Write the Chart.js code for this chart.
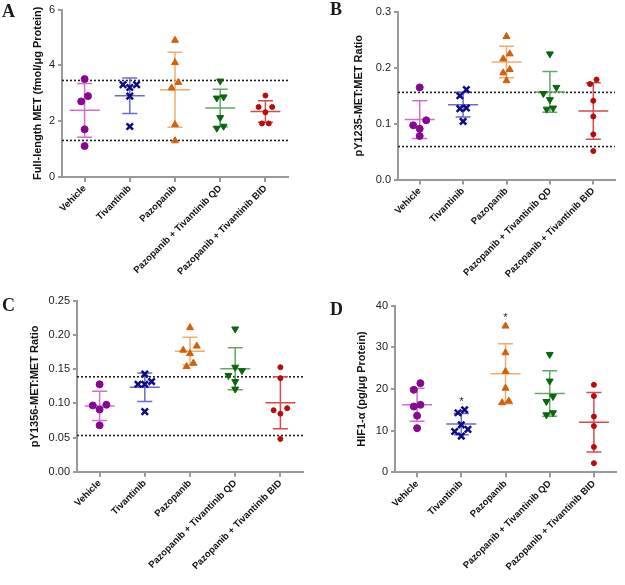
<!DOCTYPE html>
<html>
<head>
<meta charset="utf-8">
<script src="https://cdn.jsdelivr.net/npm/chart.js@4.4.1/dist/chart.umd.min.js"></script>
<style>
  html, body { margin: 0; padding: 0; background: #fff; }
  #wrap { position: relative; width: 625px; height: 585px; overflow: hidden; }
  canvas { position: absolute; }
  .letter { position: absolute; font-family: "Liberation Serif", "Times New Roman", serif; font-weight: bold; font-size: 18px; line-height: 18px; color: #1a1a1a; }
</style>
</head>
<body>
<div id="wrap">
  <canvas id="chartA" style="left:0;top:0" width="312" height="290"></canvas>
  <canvas id="chartB" style="left:312px;top:0" width="313" height="290"></canvas>
  <canvas id="chartC" style="left:0;top:290px" width="312" height="295"></canvas>
  <canvas id="chartD" style="left:312px;top:290px" width="313" height="295"></canvas>
  <div class="letter" style="left:2px;top:2px">A</div>
  <div class="letter" style="left:330px;top:0px">B</div>
  <div class="letter" style="left:2px;top:296px">C</div>
  <div class="letter" style="left:330px;top:300px">D</div>
</div>
<script>
const groups = ['Vehicle', 'Tivantinib', 'Pazopanib', 'Pazopanib + Tivantinib QD', 'Pazopanib + Tivantinib BID'];

// A: full-length MET (fmol/ug protein)
const metVehicle = [3.51, 2.90, 2.71, 1.71, 1.11];
const metTivantinib = [3.31, 3.21, 3.31, 2.90, 1.81];
const metPazopanib = [4.90, 4.10, 3.39, 3.19, 1.88, 1.30];
const metQD = [3.44, 2.83, 2.87, 2.13, 1.75, 1.82];
const metBID = [2.92, 2.51, 2.51, 2.32, 1.92, 1.92];
const metRefs = [3.46, 1.31];
const metTicks = [0, 2, 4, 6];

// B: pY1235-MET:MET ratio
const y1235Vehicle = [0.165, 0.106, 0.097, 0.091, 0.078];
const y1235Tivantinib = [0.161, 0.150, 0.128, 0.127, 0.104];
const y1235Pazopanib = [0.256, 0.225, 0.216, 0.197, 0.191, 0.177];
const y1235QD = [0.225, 0.165, 0.154, 0.143, 0.128, 0.126];
const y1235BID = [0.179, 0.171, 0.141, 0.113, 0.081, 0.051];
const y1235Refs = [0.156, 0.059];
const y1235Ticks = [0.0, 0.1, 0.2, 0.3];

// C: pY1356-MET:MET ratio
const y1356Vehicle = [0.128, 0.098, 0.097, 0.091, 0.068];
const y1356Tivantinib = [0.143, 0.132, 0.128, 0.128, 0.088];
const y1356Pazopanib = [0.211, 0.184, 0.178, 0.173, 0.159, 0.154];
const y1356QD = [0.209, 0.153, 0.148, 0.141, 0.132, 0.121];
const y1356BID = [0.153, 0.137, 0.093, 0.090, 0.085, 0.048];
const y1356Refs = [0.139, 0.053];
const y1356Ticks = [0.00, 0.05, 0.10, 0.15, 0.20, 0.25];

// D: HIF1-alpha (pg/ug protein)
const hifVehicle = [21.4, 19.8, 16.2, 15.8, 13.6, 10.6];
const hifTivantinib = [15.0, 14.3, 11.4, 10.3, 9.8, 8.7];
const hifPazopanib = [35.1, 28.7, 24.2, 20.2, 17.1, 16.7];
const hifQD = [28.3, 21.9, 18.2, 17.0, 14.3, 13.8];
const hifBID = [21.0, 18.3, 13.4, 11.1, 6.1, 2.2];
const hifSig = ['', '*', '*', '', ''];
const hifTicks = [0, 10, 20, 30, 40];

const looks = [
  { style: 'circle', r: 3.5, rot: 0, bw: 1, dot: '#86088f', bar: '#cf6fd2' },
  { style: 'crossRot', r: 4.5, rot: 0, bw: 2.5, dot: '#0c0c86', bar: '#6a6ad0' },
  { style: 'triangle', r: 4, rot: 0, bw: 1, dot: '#d0600c', bar: '#f2ac70' },
  { style: 'triangle', r: 4, rot: 180, bw: 1, dot: '#0b650f', bar: '#62a862' },
  { style: 'circle', r: 2.5, rot: 0, bw: 1, dot: '#b80c0c', bar: '#d54a4a' }
];
const JITTER = 0.15;
const FONT = '"Liberation Sans", Arial, sans-serif';

function meanSd(v) {
  const m = v.reduce((a, b) => a + b, 0) / v.length;
  const ss = v.reduce((a, b) => a + (b - m) * (b - m), 0);
  return [m, Math.sqrt(ss / (v.length - 1))];
}

// spread points with nearly equal values sideways, prism style
function spread(values, thresh) {
  const idx = values.map((v, i) => i).sort((a, b) => values[a] - values[b]);
  const off = values.map(() => 0);
  let run = [idx[0]];
  const flush = () => {
    if (run.length === 2) { off[run[0]] = -0.5; off[run[1]] = 0.5; }
    else if (run.length > 2) run.forEach((k, j) => { off[k] = [0, -1, 1][j % 3]; });
  };
  for (let j = 1; j < idx.length; j++) {
    if (values[idx[j]] - values[idx[j - 1]] < thresh) run.push(idx[j]);
    else { flush(); run = [idx[j]]; }
  }
  flush();
  return off;
}

const starPlugin = {
  id: 'stars',
  afterDatasetsDraw(chart, args, opts) {
    if (!opts.marks) return;
    const { ctx, scales } = chart;
    ctx.save();
    ctx.font = '11px ' + FONT;
    ctx.fillStyle = '#222';
    ctx.textAlign = 'center';
    ctx.textBaseline = 'alphabetic';
    opts.marks.forEach((m, g) => {
      if (!m) return;
      const top = Math.max(...opts.series[g]);
      ctx.fillText(m, scales.x.getPixelForValue(g), scales.y.getPixelForValue(top) - 5);
    });
    ctx.restore();
  }
};

function makePanel(id, series, cfg) {
  const ticks = cfg.ticks;
  const yMax = ticks[ticks.length - 1];
  const datasets = [];
  series.forEach((vals, g) => {
    const lk = looks[g];
    const off = spread(vals, yMax * 0.042);
    datasets.push({
      data: vals.map((v, k) => ({ x: g + off[k] * JITTER, y: v })),
      pointStyle: lk.style,
      pointRadius: lk.r,
      pointRotation: lk.rot,
      pointBackgroundColor: lk.dot,
      pointBorderColor: lk.dot,
      pointBorderWidth: lk.bw,
      order: 0
    });
    const [m, sd] = meanSd(vals);
    datasets.push({
      data: [{ x: g, y: m - sd }, { x: g, y: m }, { x: g, y: m + sd }],
      showLine: true,
      borderColor: lk.bar,
      borderWidth: 1.5,
      pointStyle: 'line',
      pointRadius: c => c.dataIndex === 1 ? 15 : 7.5,
      pointBorderColor: lk.bar,
      pointBorderWidth: 1.5,
      order: 1
    });
  });
  (cfg.refs || []).forEach(r => {
    datasets.push({
      data: [{ x: -0.5, y: r }, { x: 4.5, y: r }],
      showLine: true,
      borderColor: '#222',
      borderWidth: 1.6,
      borderDash: [2, 2],
      pointRadius: 0,
      order: 2
    });
  });

  return new Chart(document.getElementById(id), {
    type: 'scatter',
    data: { datasets },
    plugins: [starPlugin],
    options: {
      responsive: false,
      animation: false,
      events: [],
      layout: { padding: cfg.pad },
      plugins: {
        legend: { display: false },
        tooltip: { enabled: false },
        stars: { marks: cfg.sig, series }
      },
      scales: {
        x: {
          type: 'linear',
          min: -0.5,
          max: 4.5,
          afterBuildTicks: s => { s.ticks = groups.map((name, i) => ({ value: i })); },
          ticks: {
            autoSkip: false,
            minRotation: 45,
            maxRotation: 45,
            padding: 1,
            color: '#111',
            font: { family: FONT, size: 9.5, weight: 'bold' },
            callback: v => groups[v] ?? ''
          },
          grid: { drawOnChartArea: false, tickLength: 5, color: '#999', lineWidth: 2 },
          border: { color: '#999', width: 2 },
          afterFit: s => { s.height = cfg.xh; }
        },
        y: {
          min: ticks[0],
          max: yMax,
          ticks: {
            stepSize: ticks[1] - ticks[0],
            padding: 3,
            color: '#222',
            font: { family: FONT, size: 11 },
            callback: v => v.toFixed(cfg.dec)
          },
          grid: { drawOnChartArea: false, tickLength: 4, color: '#999', lineWidth: 2 },
          border: { color: '#999', width: 2 },
          title: {
            display: true,
            text: cfg.title,
            color: '#111',
            padding: { top: 4, bottom: 4 },
            font: { family: FONT, size: 11, weight: 'bold' }
          },
          afterFit: s => { s.width = cfg.yw; }
        }
      }
    }
  });
}

makePanel('chartA', [metVehicle, metTivantinib, metPazopanib, metQD, metBID], {
  ticks: metTicks, dec: 0, refs: metRefs,
  title: 'Full-length MET (fmol/\u03bcg Protein)',
  pad: { left: 27, right: 24, top: 9, bottom: 0 }, yw: 35, xh: 113
});
makePanel('chartB', [y1235Vehicle, y1235Tivantinib, y1235Pazopanib, y1235QD, y1235BID], {
  ticks: y1235Ticks, dec: 1, refs: y1235Refs,
  title: 'pY1235-MET:MET Ratio',
  pad: { left: 36, right: 10, top: 12, bottom: 0 }, yw: 50, xh: 110.5
});
makePanel('chartC', [y1356Vehicle, y1356Tivantinib, y1356Pazopanib, y1356QD, y1356BID], {
  ticks: y1356Ticks, dec: 2, refs: y1356Refs,
  title: 'pY1356-MET:MET Ratio',
  pad: { left: 24, right: 9, top: 11, bottom: 0 }, yw: 53, xh: 113.3
});
makePanel('chartD', [hifVehicle, hifTivantinib, hifPazopanib, hifQD, hifBID], {
  ticks: hifTicks, dec: 0, sig: hifSig,
  title: 'HIF1-\u03b1 (pg/\u03bcg Protein)',
  pad: { left: 39, right: 8, top: 15.7, bottom: 0 }, yw: 44, xh: 112.7
});
</script>
</body>
</html>
